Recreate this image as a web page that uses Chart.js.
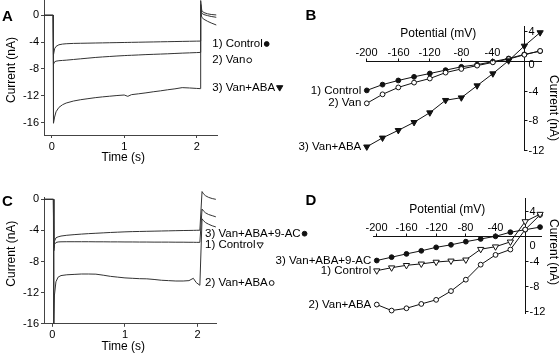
<!DOCTYPE html>
<html>
<head>
<meta charset="utf-8">
<script src="https://cdn.jsdelivr.net/npm/chart.js@4.4.1/dist/chart.umd.min.js"></script>
<style>
  html, body { margin: 0; padding: 0; background: #fff; }
  #wrap { position: relative; width: 560px; height: 354px; }
  #wrap canvas { position: absolute; left: 0; top: 0; }
</style>
</head>
<body>
<div id="wrap">
  <canvas id="chartA" width="560" height="354"></canvas>
  <canvas id="chartB" width="560" height="354"></canvas>
  <canvas id="chartC" width="560" height="354"></canvas>
  <canvas id="chartD" width="560" height="354"></canvas>
</div>
<script>
// ---- Panel A: whole-cell current (nA) vs time (s)
const timeA = [-0.106, 0.02, 0.025, 0.04, 0.06, 0.1, 0.15, 0.2, 0.3, 0.4, 0.5, 0.6, 0.7, 0.8, 0.9, 1.0, 1.05, 1.1,
  1.2, 1.3, 1.4, 1.5, 1.6, 1.7, 1.8, 1.9, 2.0, 2.05, 2.055, 2.07, 2.1, 2.15, 2.2, 2.27];
const controlA = [0, 0, -5.9, -5.0, -4.65, -4.4, -4.3, -4.25, -4.2, -4.18, -4.16, -4.14, -4.12, -4.1, -4.08, -4.06, -4.05, -4.04,
  -4.02, -4.0, -3.98, -3.96, -3.94, -3.92, -3.9, -3.88, -3.86, -3.85, 2.2, 0.7, 0.4, 0.22, 0.12, 0.05];
const vanA = [0, 0, -7.3, -6.95, -6.85, -6.78, -6.74, -6.7, -6.6, -6.5, -6.4, -6.3, -6.22, -6.15, -6.08, -6.02, -5.99, -5.97,
  -5.92, -5.87, -5.83, -5.79, -5.75, -5.7, -5.65, -5.61, -5.57, -5.54, 1.6, 0.3, 0.1, -0.05, -0.18, -0.3];
const vanAbaA = [0, 0, -16.1, -15.2, -14.4, -13.75, -13.35, -13.1, -12.8, -12.6, -12.45, -12.3, -12.18, -12.08, -11.98, -11.9, -12.1, -11.85,
  -11.72, -11.58, -11.42, -11.28, -11.12, -10.98, -10.8, -10.85, -10.92, -10.95, 0.8, -0.3, -0.6, -0.9, -1.15, -1.45];

// ---- Panel C: same protocol, second experiment
const timeC = [-0.114, 0.015, 0.02, 0.03, 0.05, 0.08, 0.12, 0.2, 0.3, 0.4, 0.5, 0.6, 0.7, 0.8, 0.9, 1.0, 1.1, 1.2,
  1.3, 1.4, 1.5, 1.6, 1.7, 1.8, 1.88, 1.94, 1.98, 2.03, 2.06, 2.08, 2.11, 2.15, 2.2, 2.25];
const nineAcC = [0, 0, -6.2, -5.4, -4.95, -4.82, -4.72, -4.62, -4.54, -4.47, -4.41, -4.36, -4.31, -4.26, -4.22, -4.18, -4.15, -4.13,
  -4.11, -4.09, -4.07, -4.05, -4.03, -4.01, -4.0, -3.99, -3.98, -3.97, 1.0, 0.7, 0.45, 0.25, 0.1, 0.0];
const controlC = [0, 0, -6.6, -5.8, -5.55, -5.48, -5.46, -5.45, -5.45, -5.45, -5.45, -5.46, -5.46, -5.47, -5.47, -5.48, -5.48, -5.49,
  -5.49, -5.5, -5.5, -5.5, -5.51, -5.51, -5.52, -5.52, -5.53, -5.53, -1.25, -1.5, -1.75, -1.95, -2.1, -2.25];
const vanAbaC = [0, 0, -16.0, -12.3, -10.6, -10.0, -9.8, -9.7, -9.65, -9.6, -9.6, -9.62, -9.75, -9.9, -10.0, -10.1, -10.15, -10.2,
  -10.22, -10.3, -10.4, -10.45, -10.5, -10.5, -10.45, -10.15, -10.7, -11.05, -2.5, -2.75, -3.0, -3.2, -3.4, -3.55];

const timeTicks = [0, 1, 2];
const traceCurrentTicks = [0, -4, -8, -12, -16];

// ---- Panels B and D: current-voltage relations
const potential = [-200, -180, -160, -140, -120, -100, -80, -60, -40, -20, 0, 20];
const controlB = [-3.9, -3.12, -2.56, -2.07, -1.62, -1.17, -0.72, -0.43, -0.02, 0.4, 0.95, 1.4];
const vanB = [-5.64, -4.43, -3.5, -2.85, -2.3, -1.5, -1.01, -0.56, -0.12, 0.32, 0.9, 1.42];
const vanAbaB = [-11.5, -10.3, -9.28, -8.2, -6.9, -5.23, -4.88, -3.26, -1.64, 0.11, 2.09, 3.9];

const nineAcD = [-3.84, -3.31, -2.79, -2.3, -1.75, -1.35, -0.85, -0.42, 0.0, 0.65, 1.05, 1.46];
const controlD = [-5.45, -4.98, -4.6, -4.37, -4.08, -3.9, -3.73, -2.05, -1.65, -0.88, 2.35, 3.52];
const vanAbaD = [-10.83, -11.78, -11.42, -10.73, -10.08, -8.69, -6.88, -4.5, -2.95, -2.1, 1.08, 3.4];

const potentialTicks = [-200, -160, -120, -80, -40];
const ivCurrentTicks = [4, 0, -4, -8, -12];

const namesAB = ['1) Control', '2) Van', '3) Van+ABA'];
const namesCD = ['3) Van+ABA+9-AC', '1) Control', '2) Van+ABA'];

const FONT = "'Liberation Sans', Arial, Helvetica, sans-serif";
const INK = '#111';
const AXIS = '#444';
const Y_AXIS_W = 30;   // room kept for the current tick labels in A and C
const X_AXIS_H = 20;   // room kept for the time tick labels in A and C

// marker looks, shared by the I-V points and the labels of the traces
const DOT = { pointStyle: 'circle', rotation: 0, radius: 2.4, fill: '#111' };
const RING = { pointStyle: 'circle', rotation: 0, radius: 2.4, fill: '#fff' };
const TRI = { pointStyle: 'triangle', rotation: 180, radius: 3.6, fill: '#111' };
const OTRI = { pointStyle: 'triangle', rotation: 180, radius: 3.6, fill: '#fff' };

function xy(xs, ys) {
  return xs.map((x, i) => ({ x: x, y: ys[i] }));
}

// fixed axis sizes, so the padding alone sets the plot box
function fixedSize(size) {
  return scale => {
    if (scale.isHorizontal()) scale.height = size; else scale.width = size;
    scale.paddingLeft = scale.paddingRight = scale.paddingTop = scale.paddingBottom = 0;
  };
}

function fixedTicks(values) {
  return scale => { scale.ticks = values.map(v => ({ value: v })); };
}

function drawMark(ctx, m, x, y) {
  ctx.save();
  ctx.fillStyle = m.fill;
  ctx.strokeStyle = INK;
  ctx.lineWidth = 1;
  ctx.beginPath();
  if (m.pointStyle === 'circle') {
    ctx.arc(x, y, m.radius, 0, Math.PI * 2);
  } else {
    let rad = m.rotation * Math.PI / 180;
    for (let k = 0; k < 3; k++) {
      const px = x + Math.sin(rad) * m.radius, py = y - Math.cos(rad) * m.radius;
      if (k === 0) ctx.moveTo(px, py); else ctx.lineTo(px, py);
      rad += Math.PI * 2 / 3;
    }
    ctx.closePath();
  }
  ctx.fill();
  ctx.stroke();
  ctx.restore();
}

function markHalfWidth(m) {
  return m.pointStyle === 'circle' ? m.radius : m.radius * 0.87;
}

// letter, axis titles and trace labels for panels A and C
function traceDecor(cfg) {
  return {
    id: 'traceDecor',
    afterDraw(chart) {
      const ctx = chart.ctx;
      ctx.save();
      ctx.fillStyle = '#000';
      ctx.font = 'bold 15px ' + FONT;
      ctx.textAlign = 'left';
      ctx.textBaseline = 'alphabetic';
      ctx.fillText(cfg.letter, cfg.letterAt[0], cfg.letterAt[1]);

      ctx.font = '12px ' + FONT;
      ctx.textAlign = 'center';
      ctx.textBaseline = 'middle';
      ctx.fillText('Time (s)', cfg.xTitle[0], cfg.xTitle[1]);
      ctx.save();
      ctx.translate(cfg.yTitle[0], cfg.yTitle[1]);
      ctx.rotate(-Math.PI / 2);
      ctx.fillText('Current (nA)', 0, 0);
      ctx.restore();

      ctx.font = '11.5px ' + FONT;
      ctx.textAlign = 'left';
      cfg.labels.forEach((lab, i) => {
        ctx.fillStyle = '#000';
        ctx.fillText(cfg.names[i], cfg.labelX, lab);
        const w = ctx.measureText(cfg.names[i]).width;
        const m = cfg.marks[i];
        drawMark(ctx, m, cfg.labelX + w + 1.5 + markHalfWidth(m), lab);
      });
      ctx.restore();
    }
  };
}

// ticks, titles and series labels for the I-V panels B and D
function ivDecor(cfg) {
  return {
    id: 'ivDecor',
    afterDraw(chart) {
      const ctx = chart.ctx;
      const xs = chart.scales.x, ys = chart.scales.y;
      const x0 = Math.round(xs.getPixelForValue(0) - 0.5) + 0.5;
      const y0 = Math.round(ys.getPixelForValue(0) - 0.5) + 0.5;
      ctx.save();
      ctx.strokeStyle = INK;
      ctx.fillStyle = '#000';
      ctx.lineWidth = 1;
      ctx.font = '11px ' + FONT;

      ctx.textAlign = 'center';
      ctx.textBaseline = 'middle';
      potentialTicks.forEach(v => {
        const px = Math.round(xs.getPixelForValue(v) - 0.5) + 0.5;
        ctx.beginPath(); ctx.moveTo(px, y0); ctx.lineTo(px, y0 - 3); ctx.stroke();
        ctx.fillText(String(v), px, y0 - 8.5);
      });

      ctx.textAlign = 'left';
      ivCurrentTicks.forEach(v => {
        const py = Math.round(ys.getPixelForValue(v) - 0.5) + 0.5;
        ctx.beginPath(); ctx.moveTo(x0, py); ctx.lineTo(x0 + 3, py); ctx.stroke();
        ctx.fillText(String(v), x0 + 4, py + (v === 0 ? cfg.zeroDrop : 0));
      });

      ctx.font = '12px ' + FONT;
      ctx.textAlign = 'center';
      ctx.fillText('Potential (mV)', cfg.xTitle[0], cfg.xTitle[1]);
      ctx.save();
      ctx.translate(cfg.yTitle[0], cfg.yTitle[1]);
      ctx.rotate(Math.PI / 2);
      ctx.fillText('Current (nA)', 0, 0);
      ctx.restore();

      ctx.font = 'bold 15px ' + FONT;
      ctx.textAlign = 'left';
      ctx.textBaseline = 'alphabetic';
      ctx.fillText(cfg.letter, cfg.letterAt[0], cfg.letterAt[1]);

      ctx.font = '11.5px ' + FONT;
      ctx.textAlign = 'right';
      ctx.textBaseline = 'middle';
      cfg.names.forEach((name, i) => {
        const p = chart.getDatasetMeta(i).data[0];
        ctx.fillText(name, p.x - 5.5, p.y);
      });
      ctx.restore();
    }
  };
}

function traceChart(id, box, xRange, yRange, times, series, decor) {
  const tickFont = { family: FONT, size: 11 };
  return new Chart(document.getElementById(id), {
    type: 'scatter',
    data: {
      datasets: series.map(v => ({
        data: xy(times, v),
        showLine: true,
        borderColor: '#333',
        borderWidth: 1,
        pointRadius: 0,
        pointHoverRadius: 0,
        clip: false
      }))
    },
    options: {
      responsive: false,
      animation: false,
      events: [],
      layout: {
        autoPadding: false,
        padding: { left: box[0] - Y_AXIS_W, top: box[1], right: 560 - box[2], bottom: 354 - box[3] - X_AXIS_H }
      },
      plugins: { legend: { display: false }, tooltip: { enabled: false } },
      scales: {
        x: {
          type: 'linear', position: 'bottom', min: xRange[0], max: xRange[1],
          afterBuildTicks: fixedTicks(timeTicks), afterFit: fixedSize(X_AXIS_H),
          ticks: { color: '#000', font: tickFont, padding: 2, maxRotation: 0, autoSkip: false, callback: v => String(v) },
          grid: { drawOnChartArea: false, tickLength: 3, color: AXIS },
          border: { color: AXIS, width: 1 }
        },
        y: {
          type: 'linear', position: 'left', min: yRange[0], max: yRange[1],
          afterBuildTicks: fixedTicks(traceCurrentTicks), afterFit: fixedSize(Y_AXIS_W),
          ticks: { color: '#000', font: tickFont, padding: 2, autoSkip: false, callback: v => String(v) },
          grid: { drawOnChartArea: false, tickLength: 3, color: AXIS },
          border: { color: AXIS, width: 1 }
        }
      }
    },
    plugins: [decor]
  });
}

function ivChart(id, box, xRange, yRange, series, marks, orders, decor) {
  return new Chart(document.getElementById(id), {
    type: 'scatter',
    data: {
      datasets: series.map((v, i) => ({
        data: xy(potential, v),
        showLine: true,
        order: orders[i],
        borderColor: INK,
        borderWidth: 1,
        pointStyle: marks[i].pointStyle,
        rotation: marks[i].rotation,
        pointRadius: marks[i].radius,
        pointHoverRadius: marks[i].radius,
        pointBackgroundColor: marks[i].fill,
        pointBorderColor: INK,
        pointBorderWidth: 1,
        clip: false
      }))
    },
    options: {
      responsive: false,
      animation: false,
      events: [],
      layout: {
        autoPadding: false,
        padding: { left: box[0], top: box[1], right: 560 - box[2], bottom: 354 - box[3] }
      },
      plugins: { legend: { display: false }, tooltip: { enabled: false } },
      scales: {
        x: {
          type: 'linear', position: { y: 0 }, min: xRange[0], max: xRange[1], afterFit: fixedSize(0),
          ticks: { display: false }, grid: { display: false }, border: { color: INK, width: 1 }
        },
        y: {
          type: 'linear', position: { x: 0 }, min: yRange[0], max: yRange[1], afterFit: fixedSize(0),
          ticks: { display: false }, grid: { display: false }, border: { color: INK, width: 1 }
        }
      }
    },
    plugins: [decor]
  });
}

traceChart('chartA', [44, 0, 217, 135], [-0.106, 2.28], [-17.87, 2.28], timeA,
  [controlA, vanA, vanAbaA],
  traceDecor({ letter: 'A', letterAt: [2, 20.5], xTitle: [123.3, 157.7], yTitle: [11.7, 70],
    names: namesAB, marks: [DOT, RING, TRI], labelX: 212.3, labels: [44, 60.3, 87.5] }));

traceChart('chartC', [44, 197, 216, 323.8], [-0.114, 2.252], [-16, 0.3], timeC,
  [nineAcC, controlC, vanAbaC],
  traceDecor({ letter: 'C', letterAt: [2, 205.5], xTitle: [123.3, 346.3], yTitle: [11.7, 253.7],
    names: namesCD, marks: [DOT, OTRI, RING], labelX: 205, labels: [233.7, 244.7, 283] }));

ivChart('chartB', [366, 26.6, 541.7, 150.5], [-201, 22], [-12, 4.7],
  [controlB, vanB, vanAbaB], [DOT, RING, TRI], [2, 1, 0],
  ivDecor({ letter: 'B', letterAt: [305.5, 19.5], xTitle: [438.3, 34], yTitle: [553.3, 108],
    names: namesAB, zeroDrop: 3.5 }));

ivChart('chartD', [373.8, 198.5, 541.7, 313.2], [-204, 22.2], [-12.2, 6],
  [nineAcD, controlD, vanAbaD], [DOT, OTRI, RING], [2, 0, 1],
  ivDecor({ letter: 'D', letterAt: [305.5, 205], xTitle: [447.3, 210], yTitle: [553.3, 252],
    names: namesCD, zeroDrop: 9 }));
</script>
</body>
</html>
